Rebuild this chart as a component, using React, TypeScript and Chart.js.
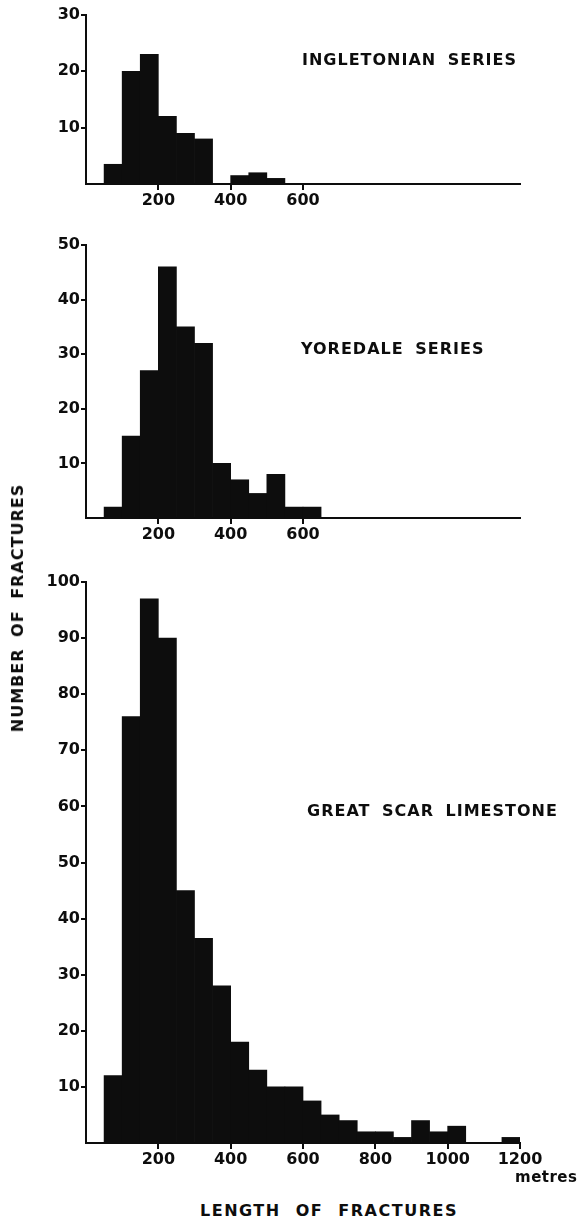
import React, { useEffect, useRef } from "react";
import { Chart, registerables } from "chart.js";

Chart.register(...registerables);

// ---- data (bins are 50 m wide, listed by their lower edge, metres) ----
const BIN_WIDTH = 50;

const ingletonianBinStarts = [50, 100, 150, 200, 250, 300, 350, 400, 450, 500];
const ingletonianCounts = [3.5, 20, 23, 12, 9, 8, 0, 1.5, 2, 1];

const yoredaleBinStarts = [50, 100, 150, 200, 250, 300, 350, 400, 450, 500, 550, 600];
const yoredaleCounts = [2, 15, 27, 46, 35, 32, 10, 7, 4.5, 8, 2, 2];

const greatScarBinStarts = [
  50, 100, 150, 200, 250, 300, 350, 400, 450, 500, 550, 600,
  650, 700, 750, 800, 850, 900, 950, 1000, 1050, 1100, 1150,
];
const greatScarCounts = [
  12, 76, 97, 90, 45, 36.5, 28, 18, 13, 10, 10, 7.5,
  5, 4, 2, 2, 1, 4, 2, 3, 0, 0, 1,
];

const ingletonianXTicks = [200, 400, 600];
const yoredaleXTicks = [200, 400, 600];
const greatScarXTicks = [200, 400, 600, 800, 1000, 1200];

const ingletonianYTicks = [10, 20, 30];
const yoredaleYTicks = [10, 20, 30, 40, 50];
const greatScarYTicks = [10, 20, 30, 40, 50, 60, 70, 80, 90, 100];

const seriesTitles = ["INGLETONIAN SERIES", "YOREDALE SERIES", "GREAT SCAR LIMESTONE"];
const yAxisTitle = "NUMBER OF FRACTURES";
const xAxisTitle = "LENGTH OF FRACTURES";
const unitLabel = "metres";

const X_MIN = 0;
const X_MAX = 1200;

const INK = "#0d0d0d";
const FONT = "'DejaVu Sans', 'Liberation Sans', sans-serif";

type PanelProps = {
  top: number;
  height: number;
  padTop: number;
  starts: number[];
  counts: number[];
  yMax: number;
  yTicks: number[];
  xTicks: number[];
};

function Panel({ top, height, padTop, starts, counts, yMax, yTicks, xTicks }: PanelProps) {
  const ref = useRef<HTMLCanvasElement | null>(null);

  useEffect(() => {
    if (!ref.current) return;
    const tickFont = { family: FONT, weight: "bold" as const, size: 16 };
    const chart = new Chart(ref.current, {
      type: "bar",
      data: {
        datasets: [
          {
            data: starts.map((s, i) => ({ x: s + BIN_WIDTH / 2, y: counts[i] })),
            backgroundColor: INK,
            borderWidth: 0,
            barPercentage: 1,
            categoryPercentage: 1,
          },
        ],
      },
      options: {
        responsive: false,
        animation: false,
        layout: { padding: { top: padTop, left: 0, right: 60, bottom: 0 } },
        plugins: {
          legend: { display: false },
          tooltip: { enabled: false },
          title: { display: false },
        },
        scales: {
          x: {
            type: "linear",
            min: X_MIN,
            max: X_MAX,
            offset: false,
            afterBuildTicks: (s: any) => {
              s.ticks = xTicks.map((v) => ({ value: v }));
            },
            afterFit: (s: any) => {
              s.height = 30;
            },
            grid: {
              display: true,
              offset: false,
              drawOnChartArea: false,
              drawTicks: true,
              tickLength: 6,
              color: INK,
              lineWidth: 2,
            },
            border: { display: true, color: INK, width: 2 },
            ticks: {
              color: INK,
              font: tickFont,
              padding: 1,
              maxRotation: 0,
              autoSkip: false,
              callback: (v: any) => String(v),
            },
          },
          y: {
            type: "linear",
            min: 0,
            max: yMax,
            afterBuildTicks: (s: any) => {
              s.ticks = yTicks.map((v) => ({ value: v }));
            },
            afterFit: (s: any) => {
              s.width = 86;
            },
            grid: {
              display: true,
              drawOnChartArea: false,
              drawTicks: true,
              tickLength: 5,
              color: INK,
              lineWidth: 2,
            },
            border: { display: true, color: INK, width: 2 },
            ticks: {
              color: INK,
              font: tickFont,
              padding: 1,
              autoSkip: false,
              callback: (v: any) => String(v),
            },
          },
        },
      },
    });
    return () => chart.destroy();
  }, []);

  return (
    <canvas
      ref={ref}
      width={580}
      height={height}
      style={{ position: "absolute", left: 0, top, display: "block" }}
    />
  );
}

const titleStyle: React.CSSProperties = {
  position: "absolute",
  fontFamily: FONT,
  fontWeight: "bold",
  fontSize: 16,
  lineHeight: "16px",
  letterSpacing: "1px",
  wordSpacing: "5px",
  color: INK,
  whiteSpace: "nowrap",
};

export default function App() {
  return (
    <div
      style={{
        position: "absolute",
        left: 0,
        top: 0,
        width: 580,
        height: 1224,
        background: "#fff",
        overflow: "hidden",
      }}
    >
      <Panel
        top={0}
        height={214}
        padTop={15}
        starts={ingletonianBinStarts}
        counts={ingletonianCounts}
        yMax={30}
        yTicks={ingletonianYTicks}
        xTicks={ingletonianXTicks}
      />
      <Panel
        top={225}
        height={323}
        padTop={20}
        starts={yoredaleBinStarts}
        counts={yoredaleCounts}
        yMax={50}
        yTicks={yoredaleYTicks}
        xTicks={yoredaleXTicks}
      />
      <Panel
        top={560}
        height={613}
        padTop={22}
        starts={greatScarBinStarts}
        counts={greatScarCounts}
        yMax={100}
        yTicks={greatScarYTicks}
        xTicks={greatScarXTicks}
      />

      <div style={{ ...titleStyle, left: 302, top: 52 }}>{seriesTitles[0]}</div>
      <div style={{ ...titleStyle, left: 301, top: 341 }}>{seriesTitles[1]}</div>
      <div style={{ ...titleStyle, left: 307, top: 803 }}>{seriesTitles[2]}</div>

      <div
        style={{
          ...titleStyle,
          left: 18,
          top: 608,
          transform: "translate(-50%, -50%) rotate(-90deg)",
        }}
      >
        {yAxisTitle}
      </div>

      <div style={{ ...titleStyle, left: 200, top: 1203, letterSpacing: "1.5px", wordSpacing: "8px" }}>
        {xAxisTitle}
      </div>

      <div
        style={{
          ...titleStyle,
          left: 515,
          top: 1169,
          letterSpacing: "0.5px",
          wordSpacing: "0px",
          fontSize: 15,
        }}
      >
        {unitLabel}
      </div>
    </div>
  );
}
